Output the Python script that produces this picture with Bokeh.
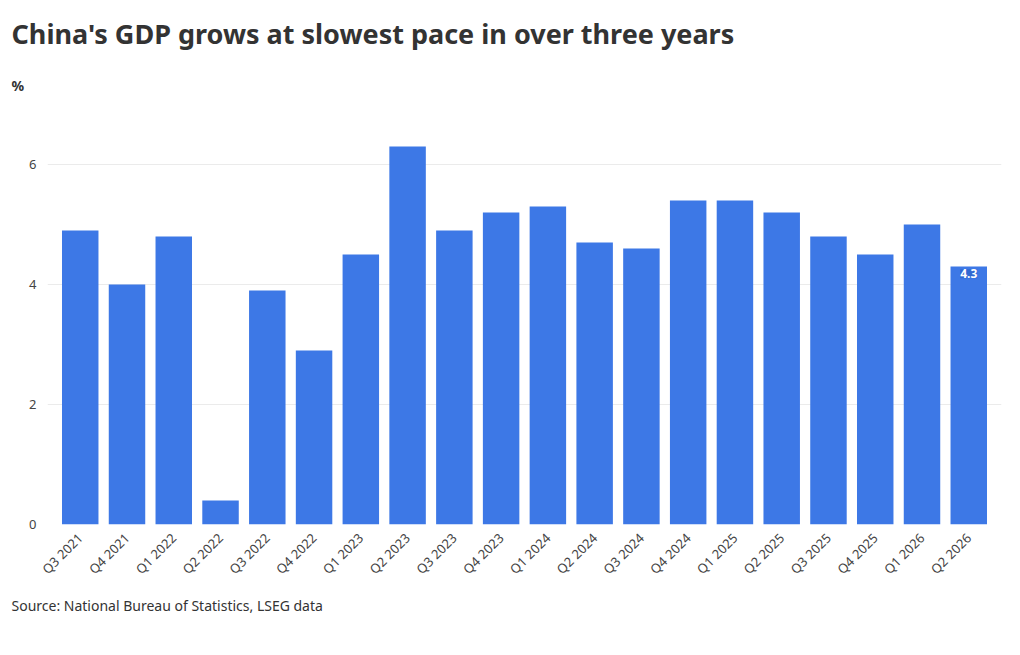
from bokeh.plotting import figure
from bokeh.models import ColumnDataSource, Range1d, Title
from bokeh.core.properties import value
from bokeh.embed import file_html
from bokeh.resources import INLINE

quarters = ["Q3 2021", "Q4 2021", "Q1 2022", "Q2 2022", "Q3 2022", "Q4 2022",
            "Q1 2023", "Q2 2023", "Q3 2023", "Q4 2023", "Q1 2024", "Q2 2024",
            "Q3 2024", "Q4 2024", "Q1 2025", "Q2 2025", "Q3 2025", "Q4 2025",
            "Q1 2026", "Q2 2026"]
gdp = [4.9, 4.0, 4.8, 0.4, 3.9, 2.9, 4.5, 6.3, 4.9, 5.2, 5.3, 4.7,
       4.6, 5.4, 5.4, 5.2, 4.8, 4.5, 5.0, 4.3]
y_ticks = [0, 2, 4, 6]

FONT = "Noto Sans"
source = ColumnDataSource(data={"q": quarters, "v": gdp})

p = figure(x_range=quarters, y_range=Range1d(0, 7), width=1004, height=630,
           output_backend="svg", toolbar_location=None,
           min_border_left=47, min_border_right=3, min_border_top=104, min_border_bottom=106)
p.vbar(x="q", top="v", width=0.78, source=source, color="#3d78e6", line_color=None)

p.outline_line_color = None
p.xgrid.grid_line_color = None
p.ygrid.grid_line_color = "#ebebeb"
p.yaxis.ticker = y_ticks
p.axis.axis_line_color = None
p.axis.major_tick_line_color = None
p.axis.minor_tick_line_color = None
p.axis.major_label_text_font = FONT
p.axis.major_label_text_font_size = "13px"
p.axis.major_label_text_color = "#444444"
p.xaxis.major_label_orientation = 0.785
p.x_range.range_padding = 0.02

p.add_layout(Title(text="%", text_font=FONT, text_font_size="14px", text_font_style="bold",
                   text_color="#333333", offset=-36, standoff=19), "above")
p.add_layout(Title(text="China's GDP grows at slowest pace in over three years", text_font=FONT,
                   text_font_size="27px", text_font_style="bold", text_color="#333333",
                   offset=-36, standoff=25), "above")
p.add_layout(Title(text="Source: National Bureau of Statistics, LSEG data", text_font=FONT,
                   text_font_size="14px", text_font_style="normal", text_color="#333333",
                   offset=-36, standoff=12), "below")
p.text(x=[quarters[-1]], y=[gdp[-1] - 0.12], text=[str(gdp[-1])], text_align="center",
       text_baseline="middle", text_font=value(FONT), text_font_size="12px",
       text_font_style="bold", text_color="white",
       background_fill_color="#2b5fc4", background_fill_alpha=0.6)

open("out.html", "w").write(file_html(p, INLINE))
